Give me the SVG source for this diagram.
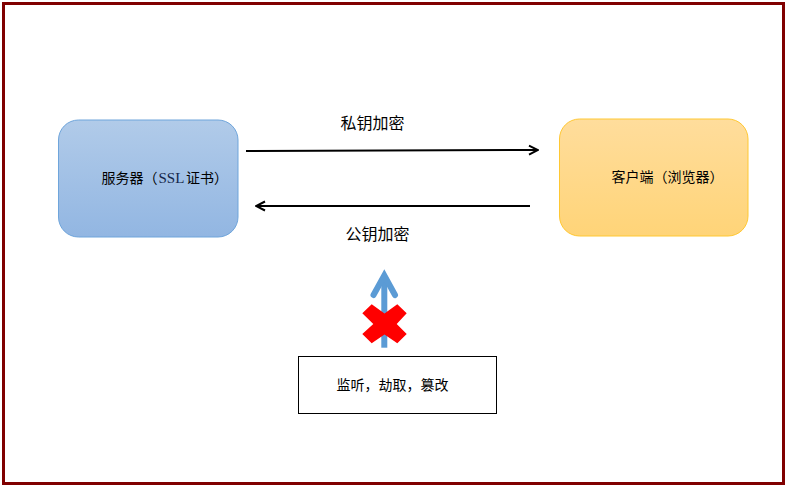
<svg xmlns="http://www.w3.org/2000/svg" width="788" height="490" viewBox="0 0 788 490">
<style>
text{font-family:"Noto Sans CJK SC","Liberation Serif",serif;fill:#000}
.s14{font-size:14px}.s16{font-size:16px}
.latin{font-family:"Liberation Serif",serif;font-size:15px;fill:#14264a}
.conn{fill:none;stroke:#000;stroke-width:2}
</style>
<defs>
<linearGradient id="blue" x1="0" y1="0" x2="0" y2="1"><stop offset="0" stop-color="#B1CBE9"/><stop offset="1" stop-color="#92B6E2"/></linearGradient>
<linearGradient id="orange" x1="0" y1="0" x2="0" y2="1"><stop offset="0" stop-color="#FFDD9C"/><stop offset="1" stop-color="#FFD478"/></linearGradient>
<marker id="open" viewBox="0 0 12 12" refX="10.5" refY="6" markerWidth="12" markerHeight="12" markerUnits="userSpaceOnUse" orient="auto-start-reverse"><path d="M1.5 1.5L10.5 6L1.5 10.5" fill="none" stroke="#000" stroke-width="2"/></marker>
</defs>
<rect id="frame" x="3.5" y="3.5" width="780" height="480" fill="#fff" stroke="#800000" stroke-width="3"/>
<g id="connectors">
<line class="conn" x1="246" y1="151" x2="538" y2="150" marker-end="url(#open)"/>
<line class="conn" x1="530" y1="206" x2="256" y2="206" marker-end="url(#open)"/>
<path d="M384.300 347.700V280" fill="none" stroke="#5B9BD5" stroke-width="6"/>
<path d="M373.500 295L384.300 275.500L395 295" fill="none" stroke="#5B9BD5" stroke-width="6" stroke-linecap="round"/>
</g>
<g id="server">
<rect x="58.500" y="120" width="179.500" height="117" rx="20" fill="url(#blue)" stroke="#6FA5DB" stroke-width="1"/>
<text class="s14" x="101.500" y="183">服务器（<tspan class="latin" x="158.500">SSL</tspan><tspan x="186">证书）</tspan></text>
</g>
<g id="client">
<rect x="559.500" y="119" width="188.500" height="117" rx="20" fill="url(#orange)" stroke="#FFC833" stroke-width="1"/>
<text class="s14" x="611.500" y="182">客户端（浏览器）</text>
</g>
<g id="label-private"><text class="s16" x="340.500" y="129">私钥加密</text></g>
<g id="label-public"><text class="s16" x="345.500" y="240">公钥加密</text></g>
<g id="cross"><polygon points="371.700,304.300 384.500,313.500 397.300,304.300 406.700,313.300 396.700,324 406.700,334 397.300,343.300 384.500,334.500 371.700,343.300 362.300,334 373.300,324 362.300,313.300" fill="#FF0000"/></g>
<g id="attack">
<rect x="298.500" y="356.500" width="198" height="57" fill="#fff" stroke="#000" stroke-width="1"/>
<text class="s14" x="336.500" y="390">监听，劫取，篡改</text>
</g>
</svg>
